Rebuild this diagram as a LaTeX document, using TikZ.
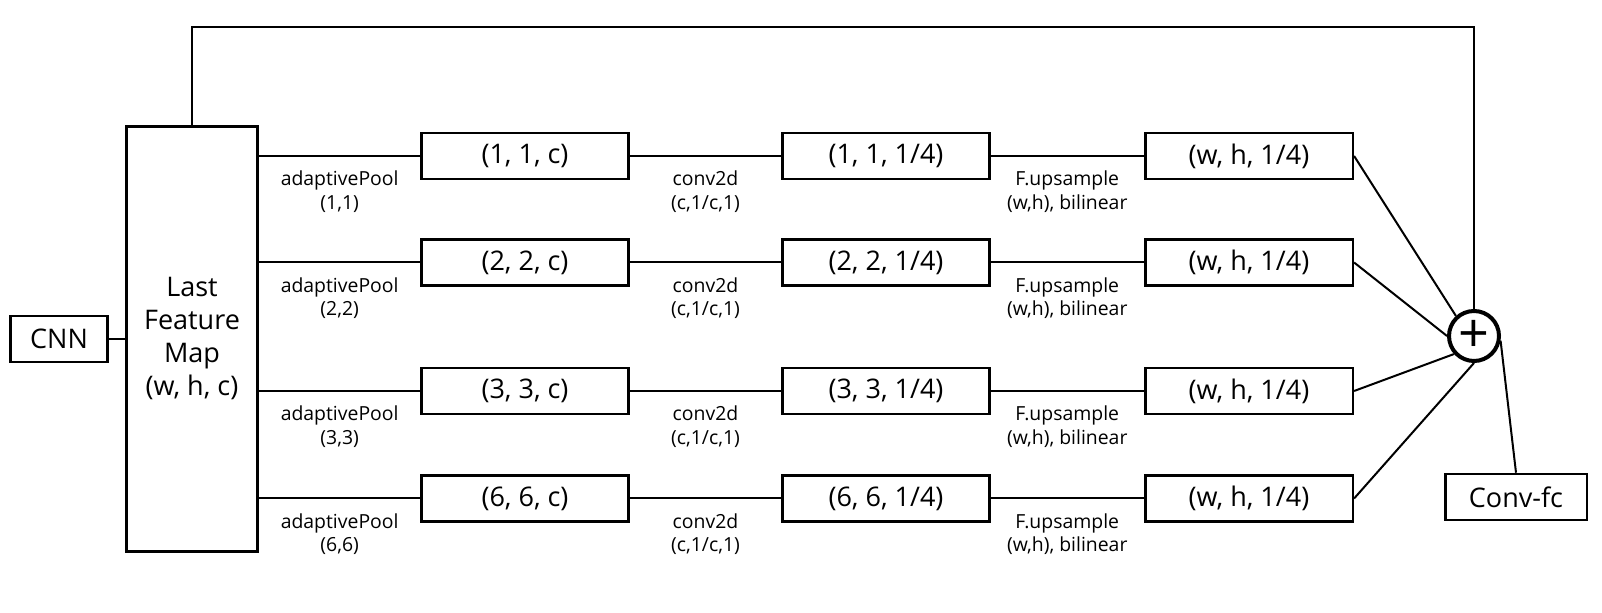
\documentclass[tikz,border=0pt]{standalone}
\usepackage{fontspec}
\setmainfont{Open Sans}
\usetikzlibrary{positioning}

\tikzset{
  blk/.style={draw, line width=1.3pt, minimum width=103.3pt, minimum height=23pt, inner sep=0pt, font=\fontsize{13.5}{16.5}\selectfont},
  lbl/.style={align=center, inner sep=0pt, font=\fontsize{9.7}{11.75}\selectfont},
  wire/.style={line width=1pt}
}

\begin{document}
\begin{tikzpicture}[x=0.5pt, y=-0.5pt]
\useasboundingbox (0,0) rectangle (1602,613);

\node[blk, minimum width=48.7pt] (cnn) at (59,339) {CNN};
\node[blk, minimum width=65.6pt, minimum height=212.5pt, align=center] (lfm) at (192,339) {Last\\Feature\\Map\\(w, h, c)};

\node[blk] (p1) at (525,156) {(1, 1, c)};
\node[blk] (p2) at (525,262.5) {(2, 2, c)};
\node[blk] (p3) at (525,391) {(3, 3, c)};
\node[blk] (p6) at (525,498.5) {(6, 6, c)};

\node[blk] (c1) at (886,156) {(1, 1, 1/4)};
\node[blk] (c2) at (886,262.5) {(2, 2, 1/4)};
\node[blk] (c3) at (886,391) {(3, 3, 1/4)};
\node[blk] (c6) at (886,498.5) {(6, 6, 1/4)};

\node[blk, minimum width=103.8pt] (u1) at (1249,156) {(w, h, 1/4)};
\node[blk, minimum width=103.8pt] (u2) at (1249,262.5) {(w, h, 1/4)};
\node[blk, minimum width=103.8pt] (u3) at (1249,391) {(w, h, 1/4)};
\node[blk, minimum width=103.8pt] (u6) at (1249,498.5) {(w, h, 1/4)};

\node[circle, draw, line width=2pt, minimum size=25pt, inner sep=0pt, font=\fontsize{27}{27}\selectfont] (sum) at (1474,336) {+};
\node[blk, minimum width=70.8pt] (fc) at (1516,497) {Conv-fc};
\coordinate (top) at (0,27);

% CNN -> feature map -> skip
\draw[wire] (cnn) -- (lfm);
\draw[wire] (lfm.north) |- (top -| sum.north) -- (sum.north);

% pooling
\draw[wire] (lfm.east |- p1) -- (p1) node[lbl, midway, yshift=-17.75pt] {adaptivePool\\(1,1)};
\draw[wire] (lfm.east |- p2) -- (p2) node[lbl, midway, yshift=-17.75pt] {adaptivePool\\(2,2)};
\draw[wire] (lfm.east |- p3) -- (p3) node[lbl, midway, yshift=-17.75pt] {adaptivePool\\(3,3)};
\draw[wire] (lfm.east |- p6) -- (p6) node[lbl, midway, yshift=-17.75pt] {adaptivePool\\(6,6)};

% conv
\draw[wire] (p1) -- (c1) node[lbl, midway, yshift=-17.75pt] {conv2d\\(c,1/c,1)};
\draw[wire] (p2) -- (c2) node[lbl, midway, yshift=-17.75pt] {conv2d\\(c,1/c,1)};
\draw[wire] (p3) -- (c3) node[lbl, midway, yshift=-17.75pt] {conv2d\\(c,1/c,1)};
\draw[wire] (p6) -- (c6) node[lbl, midway, yshift=-17.75pt] {conv2d\\(c,1/c,1)};

% upsample
\draw[wire] (c1) -- (u1) node[lbl, midway, yshift=-17.75pt] {F.upsample\\(w,h), bilinear};
\draw[wire] (c2) -- (u2) node[lbl, midway, yshift=-17.75pt] {F.upsample\\(w,h), bilinear};
\draw[wire] (c3) -- (u3) node[lbl, midway, yshift=-17.75pt] {F.upsample\\(w,h), bilinear};
\draw[wire] (c6) -- (u6) node[lbl, midway, yshift=-17.75pt] {F.upsample\\(w,h), bilinear};

% sum
\draw[wire] (u1.east) -- (sum.132);
\draw[wire] (u2.east) -- (sum.west);
\draw[wire] (u3.east) -- (sum.222);
\draw[wire] (u6.east) -- (sum.south);
\draw[wire] (sum.-10) -- (fc.north);
\end{tikzpicture}
\end{document}
